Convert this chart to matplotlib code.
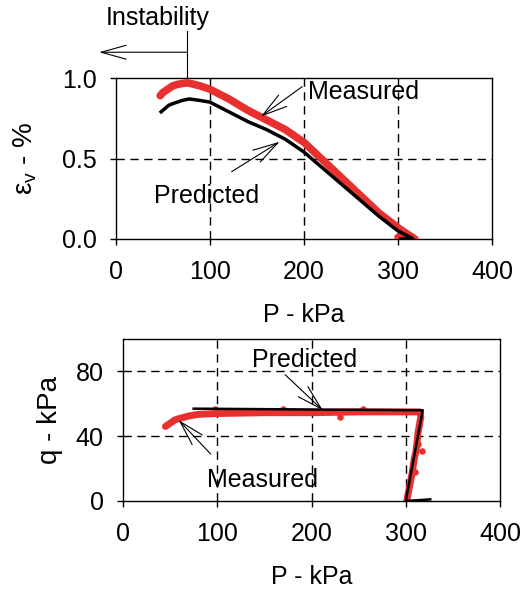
import numpy as np
import matplotlib
matplotlib.use("Agg")
import matplotlib.pyplot as plt

plt.rcParams["font.family"] = ["Liberation Sans", "DejaVu Sans"]

## top panel: volumetric strain vs mean stress
meas_p = [47, 50, 55, 60, 65, 70, 75, 80, 90, 100, 120, 140, 160, 180, 200, 220, 240, 260, 280, 300, 310, 318, 305, 300]
meas_ev = [0.89, 0.91, 0.93, 0.95, 0.96, 0.965, 0.97, 0.965, 0.95, 0.93, 0.87, 0.80, 0.74, 0.68, 0.60, 0.49, 0.38, 0.27, 0.16, 0.07, 0.03, 0.0, 0.0, 0.01]
pred_p = [48, 52, 56, 60, 65, 70, 78, 90, 100, 120, 140, 160, 180, 200, 220, 240, 260, 280, 300, 310, 316, 303]
pred_ev = [0.79, 0.81, 0.83, 0.84, 0.85, 0.86, 0.87, 0.86, 0.85, 0.79, 0.73, 0.68, 0.62, 0.54, 0.44, 0.34, 0.24, 0.14, 0.05, 0.02, 0.0, 0.0]

## bottom panel: q vs p
meas_p2 = [45, 50, 55, 60, 70, 80, 100, 150, 200, 250, 300, 315, 316, 313, 311, 309, 307, 305, 303, 301]
meas_q2 = [46, 48, 50, 51, 52.5, 53.5, 54, 54.5, 54.5, 55, 55, 55, 52, 42, 31, 26, 18, 12, 6, 0]
## scattered measured points off the main trend
scat_p2 = [230, 255, 98, 170, 317, 313, 310]
scat_q2 = [52, 57, 57, 56.5, 31, 35, 18]
pred_p2 = [75, 318, 300, 326]
pred_q2 = [57, 56, 0, 1]

fig = plt.figure(figsize=(5.22, 5.92), dpi=100)
W, H = 522, 592
ax1 = fig.add_axes([116 / W, 1 - 239 / H, 376 / W, 161 / H])
ax2 = fig.add_axes([123 / W, 1 - 501 / H, 377 / W, 162 / H])

red = "#e8302f"
ax1.plot(meas_p, meas_ev, color=red, lw=5.5, solid_capstyle="round", solid_joinstyle="round", zorder=3)
ax1.plot(pred_p, pred_ev, color="black", lw=2.5, zorder=4)

ax2.plot(meas_p2, meas_q2, color=red, lw=5, solid_capstyle="round", solid_joinstyle="round", zorder=3)
ax2.scatter(scat_p2, scat_q2, color=red, s=22, zorder=3, lw=0)
ax2.plot(pred_p2, pred_q2, color="black", lw=1.8, zorder=4)

fs = 18
ax1.set_xlim(0, 400)
ax1.set_ylim(0, 1.0)
ax1.set_xticks([0, 100, 200, 300, 400])
ax1.set_yticks([0.0, 0.5, 1.0])
ax1.set_yticklabels(["0.0", "0.5", "1.0"])
ax1.set_xlabel("P - kPa", fontsize=fs, va="center")
ax1.set_ylabel(r"$\mathregular{\epsilon_v}$ - %", fontsize=20, va="center")
ax1.xaxis.set_label_coords(0.5, -0.47)
ax1.yaxis.set_label_coords(-0.242, 0.5)

ax2.set_xlim(0, 400)
ax2.set_ylim(0, 100)
ax2.set_xticks([0, 100, 200, 300, 400])
ax2.set_yticks([0, 40, 80])
ax2.set_xlabel("P - kPa", fontsize=fs, va="center")
ax2.set_ylabel("q - kPa", fontsize=20, va="center")
ax2.xaxis.set_label_coords(0.5, -0.47)
ax2.yaxis.set_label_coords(-0.194, 0.5)

for ax in (ax1, ax2):
    ax.tick_params(direction="out", length=4, width=1, labelsize=fs)
    ax.tick_params(axis="x", pad=11)
    ax.tick_params(axis="y", pad=10)
    for s in ax.spines.values():
        s.set_linewidth(1)
    for x in (100, 200, 300):
        ax.axvline(x, color="black", ls=(0, (6, 4)), lw=1, zorder=1)

ax1.axhline(0.5, color="black", ls=(0, (6, 4)), lw=1, zorder=1)
for y in (40, 80):
    ax2.axhline(y, color="black", ls=(0, (6, 4)), lw=1, zorder=1)

arr = dict(arrowstyle="->,head_length=1.8,head_width=0.5", color="black", lw=0.8,
           shrinkA=0, shrinkB=0)

## top annotations
ax1.text(204, 0.915, "Measured", fontsize=fs, ha="left", va="center")
ax1.annotate("", xy=(154, 0.76), xytext=(198, 0.946), arrowprops=arr)
ax1.annotate("", xy=(174, 0.604), xytext=(123, 0.418), arrowprops=arr)
ax1.text(40, 0.27, "Predicted", fontsize=fs, ha="left", va="center")

## instability marker above the top panel
ax1.plot([75, 75], [1.0, 1.29], color="black", lw=0.8, clip_on=False)
ax1.annotate("", xy=(-18, 1.16), xytext=(75, 1.16), annotation_clip=False, arrowprops=arr)
ax1.text(44, 1.375, "Instability", fontsize=fs, ha="center", va="center", clip_on=False)

## bottom annotations
ax2.text(137, 87, "Predicted", fontsize=fs, ha="left", va="center")
ax2.annotate("", xy=(212, 56), xytext=(172, 78), arrowprops=arr)
ax2.text(89, 13, "Measured", fontsize=fs, ha="left", va="center")
ax2.annotate("", xy=(59, 50), xytext=(93, 29), arrowprops=arr)

fig.savefig("out.png", dpi=100)
